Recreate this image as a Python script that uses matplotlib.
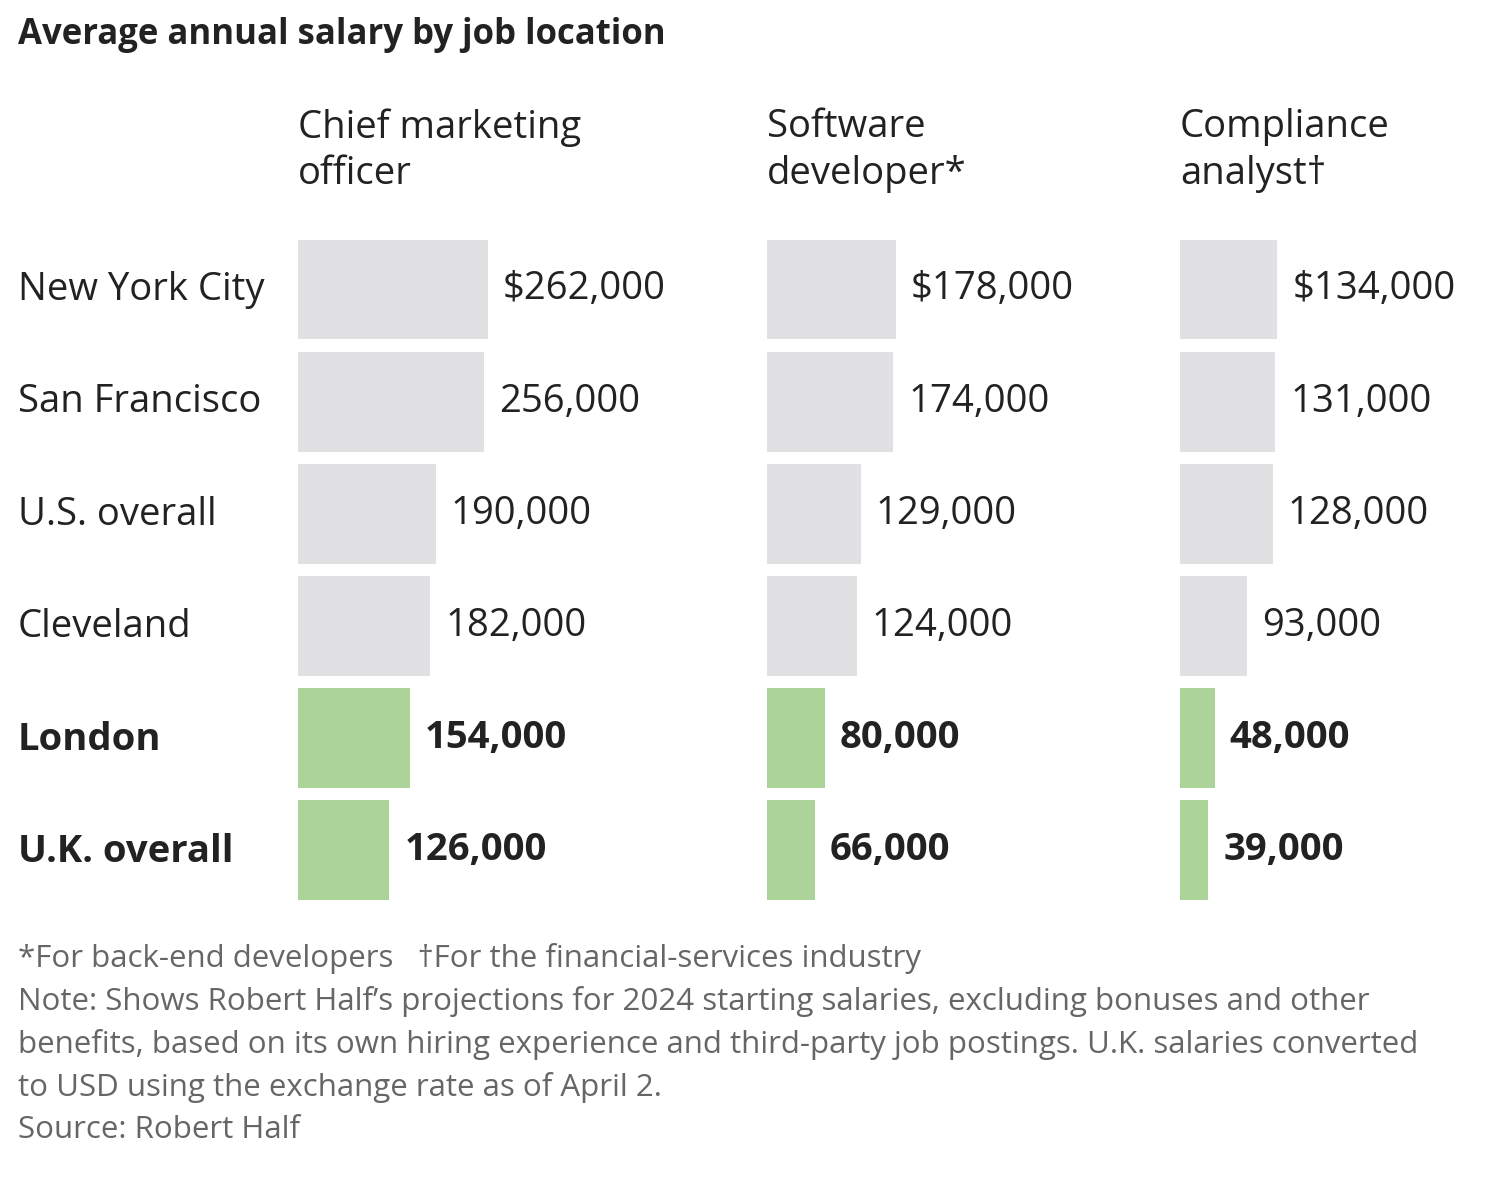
import matplotlib
matplotlib.use("Agg")
import matplotlib.pyplot as plt

locations = ["New York City", "San Francisco", "U.S. overall", "Cleveland", "London", "U.K. overall"]
jobs = ["Chief marketing\nofficer", "Software\ndeveloper*", "Compliance\nanalyst\u2020"]
cmo = [262000, 256000, 190000, 182000, 154000, 126000]
dev = [178000, 174000, 129000, 124000, 80000, 66000]
comp = [134000, 131000, 128000, 93000, 48000, 39000]
series = [cmo, dev, comp]
uk_rows = {"London", "U.K. overall"}

W, H = 1502, 1192
fig = plt.figure(figsize=(W/100, H/100), dpi=100)
FONT = "Open Sans"
plt.rcParams["font.family"] = FONT

scale = 190/262000  # px per dollar
col_left = [298, 767, 1180]
top, bottom = 239, 912
gray, green = "#e1e1e3", "#acd398"
dark = "#222222"
FS = 27.5

for ci, (left, vals) in enumerate(zip(col_left, series)):
    wpx = 320
    ax = fig.add_axes([left/W, 1-bottom/H, wpx/W, (bottom-top)/H])
    ax.set_xlim(0, wpx/scale)
    ax.set_ylim(len(locations)-0.5, -0.5)
    ax.axis("off")
    for i, (loc, v) in enumerate(zip(locations, vals)):
        uk = loc in uk_rows
        ax.barh(i-0.05, v, height=0.89, color=green if uk else gray, align="center")
        lab = f"${v:,.0f}" if i == 0 else f"{v:,.0f}"
        ax.text(v + 15/scale, i-0.05, lab, va="center", ha="left", fontsize=FS,
                color=dark, fontweight="bold" if uk else "normal")
    fig.text(left/W, 1-108/H, jobs[ci], ha="left", va="top", fontsize=FS, color=dark, linespacing=1.3)

for i, loc in enumerate(locations):
    y = 290 + i*112.4
    fig.text(18/W, 1-y/H, loc, ha="left", va="center", fontsize=FS, color=dark,
             fontweight="bold" if loc in uk_rows else "normal")

fig.text(18/W, 1-35/H, "Average annual salary by job location", ha="left", va="center",
         fontsize=25, fontweight="bold", color=dark)

foot = ("*For back-end developers   \u2020For the financial-services industry\n"
        "Note: Shows Robert Half\u2019s projections for 2024 starting salaries, excluding bonuses and other\n"
        "benefits, based on its own hiring experience and third-party job postings. U.K. salaries converted\n"
        "to USD using the exchange rate as of April 2.\n"
        "Source: Robert Half")
fig.text(18/W, 1-943/H, foot, ha="left", va="top", fontsize=22.5, color="#666666", linespacing=1.5)

fig.savefig("out.png", dpi=100, facecolor="white")
